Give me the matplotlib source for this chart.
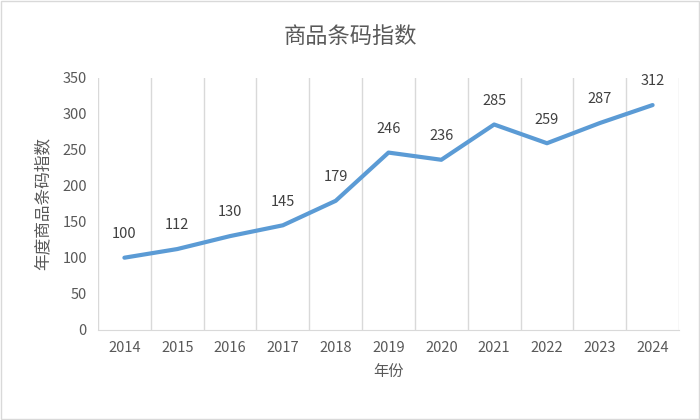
import matplotlib
matplotlib.use("Agg")
import matplotlib.pyplot as plt
import numpy as np

plt.rcParams['font.family'] = ['Noto Sans CJK SC', 'DejaVu Sans']

years = ['2014','2015','2016','2017','2018','2019','2020','2021','2022','2023','2024']
values = [100,112,130,145,179,246,236,285,259,287,312]

fig = plt.figure(figsize=(7,4.2), dpi=100)
ax = fig.add_axes([0.14, 0.215, 0.83, 0.6])
x = np.arange(len(years))
ax.plot(x, values, color='#5B9BD5', lw=3, solid_capstyle='round', zorder=3)
for xi, v in zip(x, values):
    ax.annotate(str(v), (xi, v), xytext=(0, 12), textcoords='offset points',
                ha='center', va='bottom', fontsize=10.5, color='#404040')
ax.set_xlim(-0.5, len(years)-0.5)
ax.set_ylim(0, 350)
ax.set_yticks(range(0, 351, 50))
ax.set_xticks(x)
ax.set_xticklabels(years)
for b in np.arange(-0.5, len(years), 1):
    ax.axvline(b, color='#D9D9D9', lw=1, zorder=1)
for s in ['top','right','left']:
    ax.spines[s].set_visible(False)
ax.spines['bottom'].set_color('#D9D9D9')
ax.tick_params(length=0, labelsize=10.5, colors='#595959', pad=8)
ax.set_xlabel('年份', fontsize=11, color='#595959', labelpad=6)
ax.set_ylabel('年度商品条码指数', fontsize=12, color='#595959', labelpad=8)
fig.suptitle('商品条码指数', y=0.94, fontsize=16, color='#595959')
fig.patches.append(plt.Rectangle((0.002,0.002),0.996,0.996, transform=fig.transFigure,
                                 fill=False, ec='#D9D9D9', lw=1))
fig.savefig('out.png', dpi=100)
